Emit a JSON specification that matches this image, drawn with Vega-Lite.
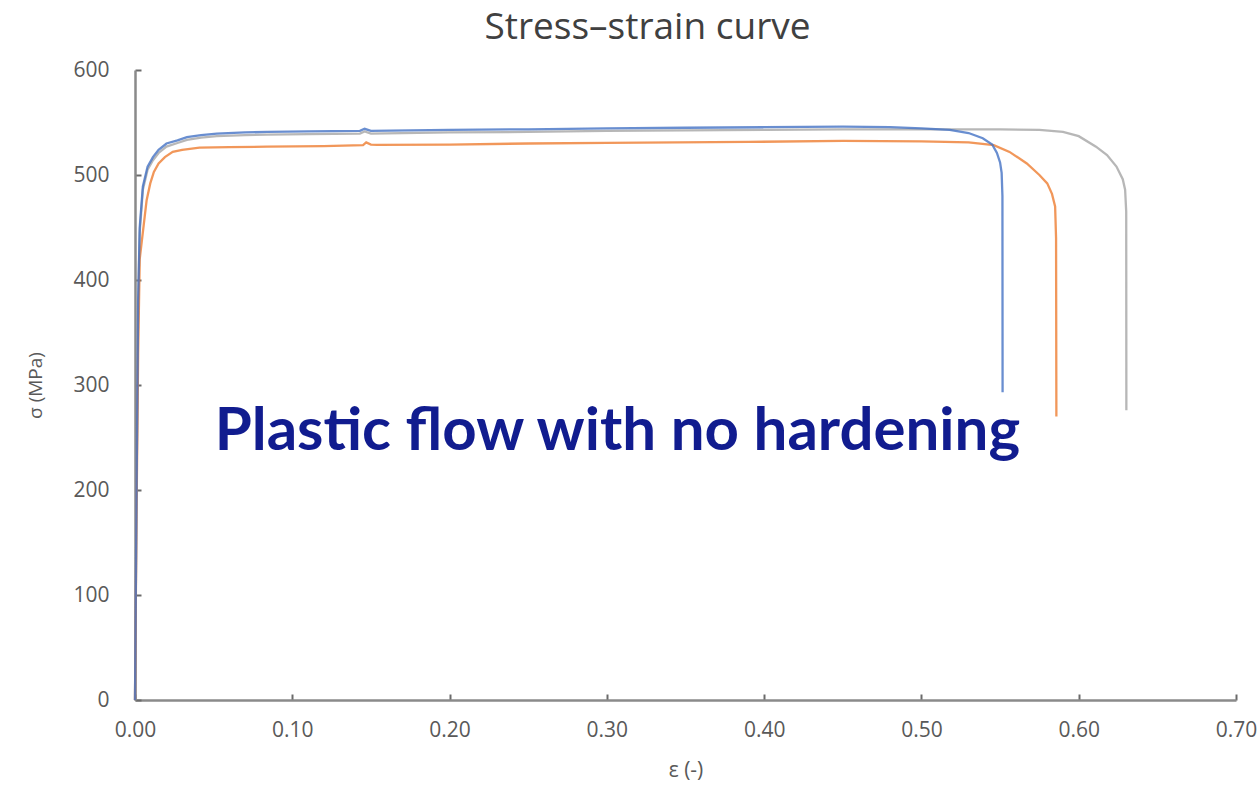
{
  "$schema": "https://vega.github.io/schema/vega-lite/v6.json",
  "width": 1101,
  "height": 630,
  "autosize": {"type": "none"},
  "padding": {"left": 135, "top": 70, "right": 23, "bottom": 92},
  "background": "white",
  "config": {"view": {"stroke": null}, "font": "Lato"},
  "title": {
    "text": "Stress–strain curve",
    "font": "Open Sans",
    "fontSize": 37,
    "fontWeight": "normal",
    "color": "#404040",
    "anchor": "middle",
    "frame": "group",
    "offset": 12,
    "dx": -38
  },
  "layer": [
    {
      "data": {
        "values": [
          {"series": "C", "i": 0, "eps": 0, "sigma": 0},
          {"series": "C", "i": 1, "eps": 0.001, "sigma": 200},
          {"series": "C", "i": 2, "eps": 0.002, "sigma": 375},
          {"series": "C", "i": 3, "eps": 0.003, "sigma": 445},
          {"series": "C", "i": 4, "eps": 0.005, "sigma": 486},
          {"series": "C", "i": 5, "eps": 0.008, "sigma": 505},
          {"series": "C", "i": 6, "eps": 0.0114, "sigma": 514},
          {"series": "C", "i": 7, "eps": 0.015, "sigma": 521},
          {"series": "C", "i": 8, "eps": 0.02, "sigma": 527},
          {"series": "C", "i": 9, "eps": 0.027, "sigma": 530.5},
          {"series": "C", "i": 10, "eps": 0.033, "sigma": 533.5},
          {"series": "C", "i": 11, "eps": 0.042, "sigma": 535.5},
          {"series": "C", "i": 12, "eps": 0.052, "sigma": 537},
          {"series": "C", "i": 13, "eps": 0.07, "sigma": 538},
          {"series": "C", "i": 14, "eps": 0.084, "sigma": 538.5},
          {"series": "C", "i": 15, "eps": 0.11, "sigma": 539},
          {"series": "C", "i": 16, "eps": 0.143, "sigma": 539.5},
          {"series": "C", "i": 17, "eps": 0.146, "sigma": 541.5},
          {"series": "C", "i": 18, "eps": 0.15, "sigma": 539.5},
          {"series": "C", "i": 19, "eps": 0.2, "sigma": 540.5},
          {"series": "C", "i": 20, "eps": 0.25, "sigma": 541},
          {"series": "C", "i": 21, "eps": 0.3, "sigma": 542},
          {"series": "C", "i": 22, "eps": 0.35, "sigma": 542.5},
          {"series": "C", "i": 23, "eps": 0.4, "sigma": 543},
          {"series": "C", "i": 24, "eps": 0.45, "sigma": 543.5},
          {"series": "C", "i": 25, "eps": 0.5, "sigma": 543.5},
          {"series": "C", "i": 26, "eps": 0.55, "sigma": 543.5},
          {"series": "C", "i": 27, "eps": 0.575, "sigma": 543},
          {"series": "C", "i": 28, "eps": 0.59, "sigma": 541},
          {"series": "C", "i": 29, "eps": 0.6, "sigma": 537},
          {"series": "C", "i": 30, "eps": 0.611, "sigma": 527},
          {"series": "C", "i": 31, "eps": 0.618, "sigma": 519},
          {"series": "C", "i": 32, "eps": 0.624, "sigma": 508},
          {"series": "C", "i": 33, "eps": 0.628, "sigma": 496},
          {"series": "C", "i": 34, "eps": 0.6295, "sigma": 486},
          {"series": "C", "i": 35, "eps": 0.6302, "sigma": 465},
          {"series": "C", "i": 36, "eps": 0.6303, "sigma": 276},

          {"series": "B", "i": 0, "eps": 0, "sigma": 0},
          {"series": "B", "i": 1, "eps": 0.001, "sigma": 180},
          {"series": "B", "i": 2, "eps": 0.002, "sigma": 330},
          {"series": "B", "i": 3, "eps": 0.003, "sigma": 420},
          {"series": "B", "i": 4, "eps": 0.0074, "sigma": 476},
          {"series": "B", "i": 5, "eps": 0.0097, "sigma": 492},
          {"series": "B", "i": 6, "eps": 0.012, "sigma": 503},
          {"series": "B", "i": 7, "eps": 0.015, "sigma": 511},
          {"series": "B", "i": 8, "eps": 0.019, "sigma": 517},
          {"series": "B", "i": 9, "eps": 0.024, "sigma": 522},
          {"series": "B", "i": 10, "eps": 0.03, "sigma": 524},
          {"series": "B", "i": 11, "eps": 0.041, "sigma": 526},
          {"series": "B", "i": 12, "eps": 0.06, "sigma": 526.5},
          {"series": "B", "i": 13, "eps": 0.084, "sigma": 527},
          {"series": "B", "i": 14, "eps": 0.12, "sigma": 527.5},
          {"series": "B", "i": 15, "eps": 0.145, "sigma": 528.5},
          {"series": "B", "i": 16, "eps": 0.147, "sigma": 531},
          {"series": "B", "i": 17, "eps": 0.15, "sigma": 529},
          {"series": "B", "i": 18, "eps": 0.154, "sigma": 528.6},
          {"series": "B", "i": 19, "eps": 0.2, "sigma": 529},
          {"series": "B", "i": 20, "eps": 0.25, "sigma": 530},
          {"series": "B", "i": 21, "eps": 0.3, "sigma": 530.5},
          {"series": "B", "i": 22, "eps": 0.39, "sigma": 531.5},
          {"series": "B", "i": 23, "eps": 0.45, "sigma": 532.5},
          {"series": "B", "i": 24, "eps": 0.5, "sigma": 532},
          {"series": "B", "i": 25, "eps": 0.53, "sigma": 531},
          {"series": "B", "i": 26, "eps": 0.546, "sigma": 528.5},
          {"series": "B", "i": 27, "eps": 0.556, "sigma": 522},
          {"series": "B", "i": 28, "eps": 0.567, "sigma": 511},
          {"series": "B", "i": 29, "eps": 0.575, "sigma": 500},
          {"series": "B", "i": 30, "eps": 0.58, "sigma": 492},
          {"series": "B", "i": 31, "eps": 0.583, "sigma": 482},
          {"series": "B", "i": 32, "eps": 0.585, "sigma": 470},
          {"series": "B", "i": 33, "eps": 0.5856, "sigma": 440},
          {"series": "B", "i": 34, "eps": 0.5858, "sigma": 270},

          {"series": "A", "i": 0, "eps": 0, "sigma": 0},
          {"series": "A", "i": 1, "eps": 0.001, "sigma": 200},
          {"series": "A", "i": 2, "eps": 0.002, "sigma": 380},
          {"series": "A", "i": 3, "eps": 0.003, "sigma": 450},
          {"series": "A", "i": 4, "eps": 0.005, "sigma": 489},
          {"series": "A", "i": 5, "eps": 0.008, "sigma": 508},
          {"series": "A", "i": 6, "eps": 0.0114, "sigma": 517},
          {"series": "A", "i": 7, "eps": 0.015, "sigma": 524},
          {"series": "A", "i": 8, "eps": 0.02, "sigma": 530},
          {"series": "A", "i": 9, "eps": 0.027, "sigma": 533},
          {"series": "A", "i": 10, "eps": 0.033, "sigma": 536},
          {"series": "A", "i": 11, "eps": 0.042, "sigma": 538},
          {"series": "A", "i": 12, "eps": 0.052, "sigma": 539.5},
          {"series": "A", "i": 13, "eps": 0.07, "sigma": 540.5},
          {"series": "A", "i": 14, "eps": 0.084, "sigma": 541},
          {"series": "A", "i": 15, "eps": 0.11, "sigma": 541.5},
          {"series": "A", "i": 16, "eps": 0.143, "sigma": 542},
          {"series": "A", "i": 17, "eps": 0.146, "sigma": 544},
          {"series": "A", "i": 18, "eps": 0.15, "sigma": 542},
          {"series": "A", "i": 19, "eps": 0.2, "sigma": 543},
          {"series": "A", "i": 20, "eps": 0.25, "sigma": 543.5},
          {"series": "A", "i": 21, "eps": 0.3, "sigma": 544.5},
          {"series": "A", "i": 22, "eps": 0.35, "sigma": 545},
          {"series": "A", "i": 23, "eps": 0.4, "sigma": 545.5},
          {"series": "A", "i": 24, "eps": 0.45, "sigma": 546},
          {"series": "A", "i": 25, "eps": 0.48, "sigma": 545.5},
          {"series": "A", "i": 26, "eps": 0.5, "sigma": 544.5},
          {"series": "A", "i": 27, "eps": 0.518, "sigma": 543},
          {"series": "A", "i": 28, "eps": 0.53, "sigma": 540},
          {"series": "A", "i": 29, "eps": 0.539, "sigma": 535},
          {"series": "A", "i": 30, "eps": 0.545, "sigma": 529},
          {"series": "A", "i": 31, "eps": 0.548, "sigma": 521},
          {"series": "A", "i": 32, "eps": 0.55, "sigma": 512},
          {"series": "A", "i": 33, "eps": 0.551, "sigma": 502},
          {"series": "A", "i": 34, "eps": 0.5515, "sigma": 480},
          {"series": "A", "i": 35, "eps": 0.5516, "sigma": 293}
        ]
      },
      "mark": {"type": "line", "strokeWidth": 2.3, "opacity": 0.8, "interpolate": "linear"},
      "encoding": {
        "x": {
          "field": "eps", "type": "quantitative",
          "scale": {"domain": [0, 0.7], "nice": false, "zero": false},
          "axis": {
            "title": "ε (-)",
            "values": [0, 0.1, 0.2, 0.3, 0.4, 0.5, 0.6, 0.7],
            "format": ".2f",
            "grid": false,
            "domainColor": "#8a8a8a", "domainWidth": 2.5,
            "tickColor": "#6a6a6a", "tickWidth": 2, "tickSize": -6,
            "labelFont": "Open Sans", "labelFontSize": 21, "labelColor": "#595959",
            "labelPadding": 25, "labelFlush": false,
            "titleFont": "Open Sans", "titleFontSize": 21, "titleFontWeight": "normal", "titleColor": "#595959",
            "titlePadding": 19
          }
        },
        "y": {
          "field": "sigma", "type": "quantitative",
          "scale": {"domain": [0, 600], "nice": false},
          "axis": {
            "title": "σ (MPa)",
            "values": [0, 100, 200, 300, 400, 500, 600],
            "grid": false,
            "domainColor": "#8a8a8a", "domainWidth": 2.5,
            "tickColor": "#6a6a6a", "tickWidth": 2, "tickSize": -6,
            "labelFont": "Open Sans", "labelFontSize": 21, "labelColor": "#595959",
            "labelPadding": 32, "labelFlush": false,
            "titleFont": "Open Sans", "titleFontSize": 19, "titleFontWeight": "normal", "titleColor": "#595959",
            "titlePadding": 27
          }
        },
        "detail": {"field": "series"},
        "order": {"field": "i", "type": "quantitative"},
        "color": {
          "field": "series", "type": "nominal",
          "scale": {"domain": ["A", "B", "C"], "range": ["#4472C4", "#ED7D31", "#A5A5A5"]},
          "legend": null
        }
      }
    },
    {
      "data": {"values": [{"eps": 0.3067, "sigma": 255, "label": "Plastic flow with no hardening"}]},
      "mark": {"type": "text", "font": "Lato", "fontSize": 60, "fontWeight": "bold", "color": "#111c8f", "align": "center", "baseline": "middle"},
      "encoding": {
        "x": {"field": "eps", "type": "quantitative"},
        "y": {"field": "sigma", "type": "quantitative"},
        "text": {"field": "label"}
      }
    }
  ]
}
